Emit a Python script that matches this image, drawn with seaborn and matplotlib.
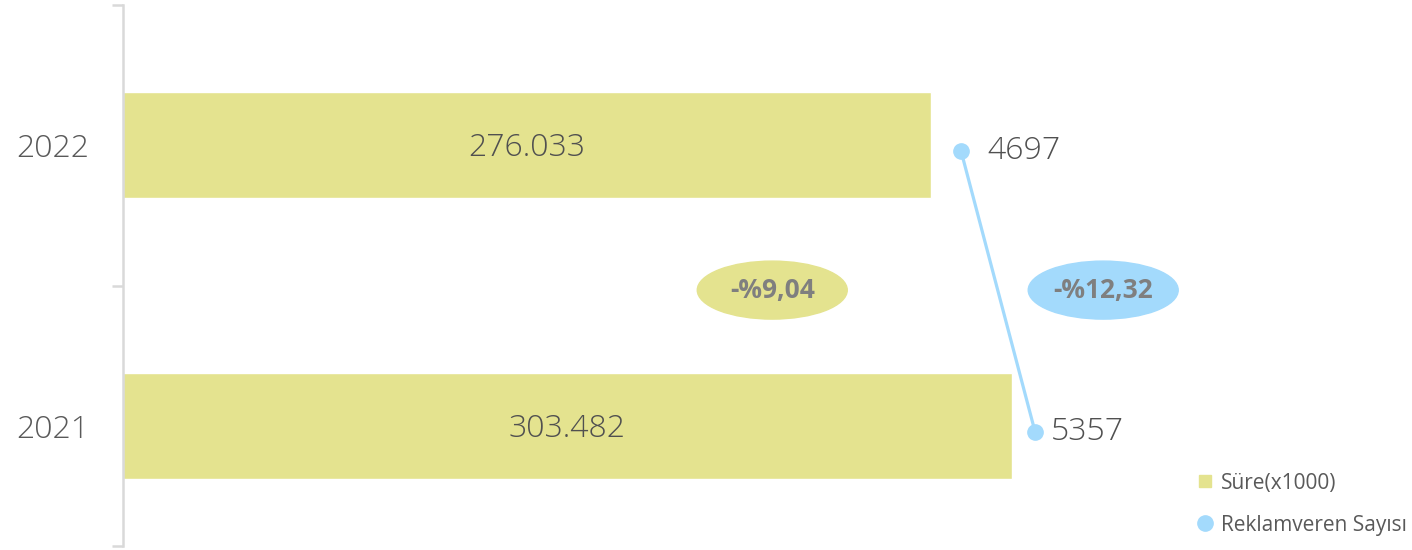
import matplotlib.pyplot as plt
import seaborn as sns
from matplotlib.patches import Ellipse
from matplotlib.lines import Line2D

years = ["2022", "2021"]
sure = [276.033, 303.482]          # Süre (x1000)
reklamveren = [4697, 5357]         # Reklamveren Sayısı
sure_labels = ["276.033", "303.482"]
degisim = ["-%9,04", "-%12,32"]

olive = "#e4e38f"
blue = "#a3dafc"
grey_txt = "#595959"

sns.set_style("white")
plt.rcParams['font.family'] = ['Open Sans', 'DejaVu Sans']

fig = plt.figure(figsize=(14.12, 5.5), dpi=100)
ax = fig.add_axes([123 / 1412, 4 / 550, 1054 / 1412, 541 / 550])

sns.barplot(x=sure, y=years, orient="h", color=olive, width=0.377,
            saturation=1, ax=ax)
ax.set_xlim(0, 360)
ax.set_ylim(1.427, -0.5)

for i, lbl in enumerate(sure_labels):
    ax.text(sure[i] / 2, i + 0.01, lbl, ha="center", va="center",
            fontsize=23, color="#505050", fontweight="light")

# y axis: ticks on category boundaries, labels on centres
ax.set_yticks([-0.5, 0.5, 1.427])
ax.set_yticklabels([])
ax.set_yticks([0, 1], minor=True)
ax.set_yticklabels(years, minor=True, fontsize=23, color=grey_txt,
                   fontweight="light")
ax.tick_params(axis="y", which="major", length=8, width=1.8,
               color="#d9d9d9", left=True)
ax.tick_params(axis="y", which="minor", length=0, pad=24)
ax.set_xticks([])
ax.set_xlabel("")
ax.set_ylabel("")
for s in ["top", "right", "bottom"]:
    ax.spines[s].set_visible(False)
ax.spines["left"].set_color("#d9d9d9")
ax.spines["left"].set_linewidth(1.8)

# second series on a twin x axis
ax2 = ax.twiny()
ypos = [i + 0.02 for i in range(len(years))]
ax2.plot(reklamveren, ypos, color=blue, lw=2.3, marker="o",
         markersize=11, clip_on=False)
ax2.set_xlim(-2777, 6623)
ax2.set_ylim(1.427, -0.5)
ax2.set_xticks([])
for s in ax2.spines.values():
    s.set_visible(False)
for v, y, dx in zip(reklamveren, ypos, [19, 11]):
    ax2.annotate(str(v), (v, y), xytext=(dx, 0), textcoords="offset points",
                 ha="left", va="center", fontsize=23, color="#505050",
                 fontweight="light")

# change badges
for (cx, col, txt) in [(0.616, olive, degisim[0]), (0.930, blue, degisim[1])]:
    ax.add_patch(Ellipse((cx, 0.473), 150 / 1054, 58 / 541,
                         transform=ax.transAxes, color=col, clip_on=False))
    ax.text(cx, 0.473, txt, transform=ax.transAxes, ha="center",
            va="center", fontsize=19, fontweight="bold", color="#7f7f7f")

handles = [Line2D([], [], marker="s", ls="", color=olive, markersize=8),
           Line2D([], [], marker="o", ls="", color=blue, markersize=11)]
fig.legend(handles, ["Süre(x1000)", "Reklamveren Sayısı"],
           loc="upper left", bbox_to_anchor=(1174 / 1412, 1 - 454 / 550),
           frameon=False, fontsize=15, labelcolor=grey_txt,
           handletextpad=0.15, labelspacing=1.0, handlelength=1.2)

fig.savefig("out.png", dpi=100)
